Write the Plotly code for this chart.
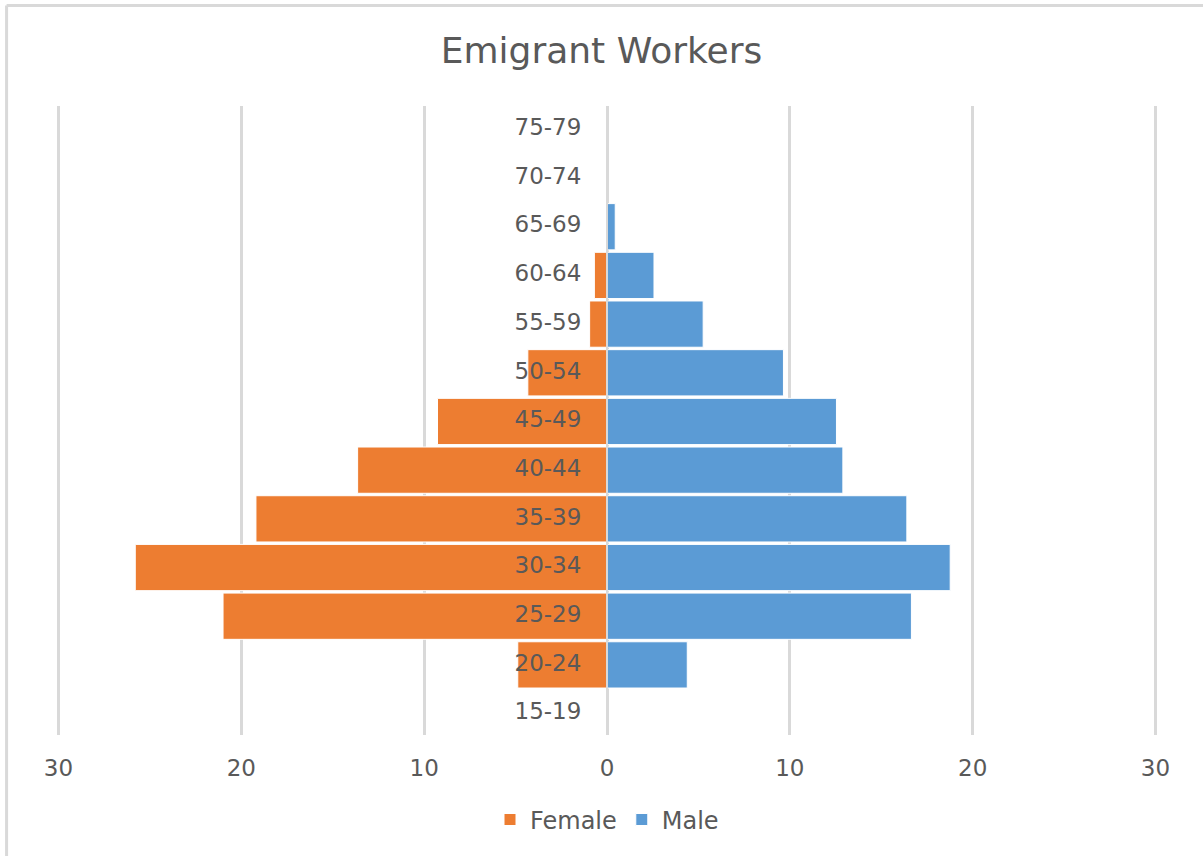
import plotly.graph_objects as go

age_groups = ["15-19", "20-24", "25-29", "30-34", "35-39", "40-44", "45-49",
              "50-54", "55-59", "60-64", "65-69", "70-74", "75-79"]
female = [0, 4.88, 21.0, 25.8, 19.2, 13.64, 9.27, 4.33, 0.95, 0.69, 0, 0, 0]
male = [0, 4.39, 16.65, 18.77, 16.4, 12.9, 12.55, 9.65, 5.26, 2.57, 0.45, 0, 0]

tick_vals = [-30, -20, -10, 0, 10, 20, 30]
tick_text = ["30", "20", "10", "0", "10", "20", "30"]

FONT = "DejaVu Sans"
GRAY = "#595959"
GRID = "#d9d9d9"

fig = go.Figure()
fig.add_trace(go.Bar(
    y=age_groups, x=[-v for v in female], name="Female", orientation="h",
    marker=dict(color="#ED7D31", line=dict(color="white", width=1)),
    customdata=female, hovertemplate="%{y}: %{customdata}<extra>Female</extra>"))
fig.add_trace(go.Bar(
    y=age_groups, x=male, name="Male", orientation="h",
    marker=dict(color="#5B9BD5", line=dict(color="white", width=1))))
fig.add_trace(go.Scatter(
    y=age_groups, x=[-1.4] * len(age_groups), mode="text", text=age_groups,
    textposition="middle left", textfont=dict(family=FONT, size=23, color=GRAY),
    showlegend=False, hoverinfo="skip"))

fig.update_layout(
    width=1203, height=856,
    barmode="overlay", bargap=0.05,
    paper_bgcolor="white", plot_bgcolor="white",
    margin=dict(l=53, r=42, t=106, b=121),
    title=dict(text="Emigrant Workers", x=0.5, xanchor="center",
               y=1 - 50 / 856, yanchor="middle", yref="container",
               font=dict(family=FONT, size=36, color=GRAY)),
    font=dict(family=FONT, color=GRAY),
    legend=dict(orientation="h", x=0.5, xanchor="center", y=-0.135, yanchor="middle",
                font=dict(family=FONT, size=24, color=GRAY), traceorder="normal"),
    xaxis=dict(range=[-30.3, 30.3], tickvals=tick_vals, ticktext=tick_text,
               showgrid=True, gridcolor=GRID, gridwidth=3, zeroline=False,
               showline=False, ticks="outside", ticklen=12, tickcolor="rgba(0,0,0,0)",
               tickfont=dict(family=FONT, size=23, color=GRAY), fixedrange=True),
    yaxis=dict(type="category", range=[-0.44, 12.48], showticklabels=False,
               showgrid=False, zeroline=False, showline=False, fixedrange=True),
    shapes=[
        dict(type="line", xref="x", yref="paper", x0=0, x1=0, y0=0, y1=1,
             layer="above", line=dict(color=GRID, width=2)),
        dict(type="line", xref="paper", yref="paper", x0=-0.0419, x1=-0.0419,
             y0=-0.3, y1=1.1598, line=dict(color=GRID, width=3)),
        dict(type="line", xref="paper", yref="paper", x0=-0.0419, x1=1.1,
             y0=1.1598, y1=1.1598, line=dict(color=GRID, width=3)),
    ],
)

fig.write_html("out.html", config={"displayModeBar": False},
               post_script="document.body.style.margin='0';document.body.style.overflow='hidden';")
